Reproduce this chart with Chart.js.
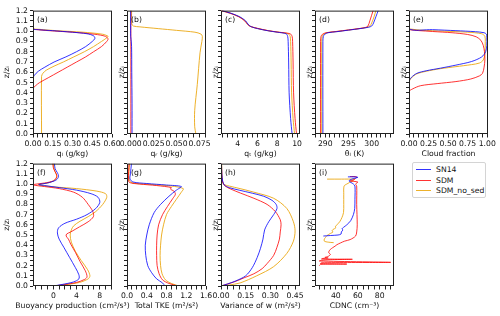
<!DOCTYPE html>
<html>
<head>
<meta charset="utf-8">
<script src="https://cdn.jsdelivr.net/npm/chart.js@4.4.0/dist/chart.umd.min.js"></script>
<style>
  body { margin: 0; background: #fff; width: 500px; height: 316px; position: relative; overflow: hidden; font-family: 'DejaVu Sans', sans-serif; }
  canvas { position: absolute; }
  #legend { position: absolute; left: 412px; top: 162px; width: 72px; height: 34px; border: 1px solid #d4d4d4; border-radius: 2px; font: 7.7px 'DejaVu Sans', sans-serif; color: #111; }
  #legend div { position: absolute; left: 0; height: 10px; line-height: 10px; white-space: nowrap; }
  #legend span { display: inline-block; width: 15px; height: 0; border-top: 1px solid; margin: 0 5px 0 3px; vertical-align: middle; }
</style>
</head>
<body>
<div id="legend"></div>
<script>
const seriesNames = ['SN14', 'SDM', 'SDM_no_sed'];
const seriesColors = ['rgba(0,0,255,0.8)', 'rgba(255,0,0,0.8)', 'rgba(235,168,20,0.9)'];

// [value, z/zi]
const qlSN14 = [[0,0],[0,0.54],[0.01,0.57],[0.04,0.61],[0.09,0.65],[0.16,0.70],[0.25,0.75],[0.33,0.80],[0.40,0.85],[0.45,0.90],[0.47,0.93],[0.46,0.955],[0.41,0.975],[0.30,0.99],[0.15,1.005],[0.04,1.015],[0,1.025],[0,1.2]];
const qlSDM = [[0,0],[0,0.44],[0.02,0.47],[0.05,0.50],[0.12,0.55],[0.19,0.60],[0.26,0.65],[0.33,0.70],[0.40,0.75],[0.46,0.80],[0.52,0.85],[0.56,0.90],[0.57,0.925],[0.55,0.95],[0.47,0.97],[0.30,0.99],[0.12,1.005],[0.03,1.015],[0,1.025],[0,1.2]];
const qlNoSed = [[0.065,0],[0.065,0.56],[0.075,0.59],[0.10,0.62],[0.16,0.66],[0.23,0.70],[0.31,0.75],[0.39,0.80],[0.46,0.85],[0.52,0.90],[0.56,0.935],[0.57,0.95],[0.53,0.97],[0.38,0.99],[0.18,1.005],[0.05,1.018],[0,1.03],[0,1.2]];

const qrSN14 = [[0.0015,0],[0.0015,0.3],[0.0012,0.6],[0.001,0.85],[0.0004,0.92],[0,0.95],[0,1.2]];
const qrSDM = [[0.0002,0],[0.0002,0.6],[0.0002,1.2]];
const qrNoSed = [[0.071,0],[0.0697,0.07],[0.0697,0.23],[0.0725,0.48],[0.0755,0.79],[0.0775,0.9],[0.078,0.95],[0.0765,0.972],[0.070,0.99],[0.05,1.008],[0.03,1.025],[0.01,1.042],[0.003,1.05],[0.0012,1.07],[0.001,1.2]];

const qtSN14 = [[9.5,0],[9.35,0.15],[9.2,0.4],[9.15,0.7],[9.1,0.9],[9.05,0.95],[8.9,0.975],[8.0,0.99],[7.0,1.005],[6.0,1.025],[5.4,1.042],[5.1,1.06],[4.8,1.1],[4.2,1.14],[3.3,1.175],[2.4,1.2]];
const qtSDM = [[9.95,0],[9.8,0.15],[9.65,0.4],[9.6,0.7],[9.55,0.9],[9.5,0.95],[9.3,0.975],[8.2,0.99],[7.1,1.005],[6.0,1.028],[5.3,1.045],[5.0,1.065],[4.7,1.1],[4.1,1.14],[3.2,1.175],[2.3,1.2]];
const qtNoSed = [[9.75,0],[9.6,0.15],[9.45,0.4],[9.4,0.7],[9.35,0.9],[9.3,0.95],[9.1,0.975],[8.1,0.99],[7.05,1.005],[6.0,1.026],[5.35,1.044],[5.05,1.062],[4.75,1.1],[4.15,1.14],[3.25,1.175],[2.35,1.2]];

const thlSN14 = [[289.5,0],[289.5,0.9],[289.6,0.95],[289.9,0.97],[290.6,0.985],[292.5,0.995],[295,1.01],[297.5,1.025],[299.3,1.038],[300.0,1.05],[300.4,1.08],[300.9,1.14],[301.4,1.2]];
const thlSDM = [[289.0,0],[289.0,0.9],[289.1,0.95],[289.4,0.97],[290.2,0.985],[292.3,0.997],[295,1.012],[297.5,1.027],[298.7,1.037],[299.2,1.05],[299.6,1.1],[300.3,1.2]];
const thlNoSed = [[289.25,0],[289.25,0.9],[289.35,0.95],[289.65,0.97],[290.4,0.985],[292.4,0.996],[295,1.011],[297.5,1.026],[299,1.037],[299.6,1.05],[300,1.08],[300.5,1.14],[300.9,1.2]];

const cfSN14 = [[0,0],[0,0.51],[0.03,0.55],[0.1,0.59],[0.22,0.615],[0.4,0.64],[0.6,0.67],[0.8,0.705],[0.93,0.75],[0.98,0.8],[0.995,0.86],[0.995,0.94],[0.99,0.97],[0.96,0.985],[0.85,0.995],[0.6,1.005],[0.3,1.015],[0,1.025],[0,1.2]];
const cfSDM = [[0,0],[0,0.41],[0.05,0.44],[0.15,0.47],[0.36,0.49],[0.6,0.51],[0.79,0.535],[0.9,0.565],[0.94,0.59],[0.96,0.65],[0.97,0.72],[0.965,0.8],[0.95,0.86],[0.92,0.91],[0.86,0.945],[0.75,0.968],[0.55,0.985],[0.3,0.997],[0.12,1.006],[0.02,1.013],[0,1.02],[0,1.2]];
const cfNoSed = [[0,0],[0,0.5],[0.03,0.545],[0.1,0.585],[0.22,0.61],[0.4,0.635],[0.6,0.655],[0.8,0.675],[0.9,0.69],[0.95,0.72],[0.97,0.78],[0.975,0.9],[0.97,0.95],[0.93,0.975],[0.75,0.99],[0.45,1.0],[0.15,1.01],[0.03,1.02],[0,1.025],[0,1.2]];

const bpSN14 = [[0,0],[1.5,0.015],[3.5,0.04],[4.4,0.07],[4.4,0.11],[3.8,0.18],[2.8,0.28],[1.8,0.38],[1.0,0.46],[0.7,0.52],[0.9,0.57],[2.0,0.615],[4.0,0.655],[5.8,0.7],[7.3,0.76],[8.0,0.82],[7.7,0.87],[6.5,0.905],[4.0,0.94],[1.0,0.965],[-1.5,0.985],[-2.5,0.995],[-1.0,1.01],[0.5,1.04],[0.9,1.075],[0.7,1.11],[0.3,1.15],[0.2,1.2]];
const bpSDM = [[0,0],[1.8,0.013],[4.0,0.035],[5.4,0.065],[5.8,0.09],[5.5,0.15],[4.6,0.24],[3.8,0.33],[3.0,0.41],[2.6,0.46],[2.2,0.49],[2.3,0.51],[3.0,0.53],[4.5,0.58],[6.0,0.63],[6.9,0.68],[6.8,0.73],[6.0,0.8],[5.0,0.87],[3.5,0.92],[1.0,0.955],[-1.5,0.975],[-3.4,0.99],[-3.2,0.997],[-1.5,1.01],[0,1.03],[0.5,1.06],[0.6,1.085],[0.3,1.12],[0,1.16],[-0.1,1.2]];
const bpNoSed = [[0,0],[2,0.012],[4.5,0.035],[6.0,0.07],[6.3,0.1],[5.9,0.16],[4.8,0.25],[3.8,0.34],[3.1,0.43],[2.9,0.5],[3.1,0.55],[3.5,0.59],[4.6,0.635],[6.0,0.68],[7.3,0.73],[8.5,0.8],[9.2,0.87],[9.0,0.905],[7.5,0.93],[4.0,0.955],[0.5,0.97],[-2.0,0.985],[-2.6,0.995],[-1.0,1.01],[0.3,1.04],[0.6,1.075],[0.4,1.11],[0.1,1.15],[0,1.2]];

const tkeSN14 = [[0.77,0],[0.72,0.03],[0.6,0.07],[0.5,0.13],[0.42,0.2],[0.38,0.3],[0.37,0.4],[0.4,0.5],[0.45,0.6],[0.55,0.72],[0.68,0.8],[0.85,0.88],[1.0,0.94],[1.1,0.975],[0.8,0.99],[0.4,1.005],[0.12,1.02],[0.06,1.05],[0.07,1.1],[0.09,1.2]];
const tkeSDM = [[1.03,0],[0.85,0.025],[0.72,0.06],[0.65,0.12],[0.61,0.2],[0.6,0.3],[0.6,0.4],[0.61,0.5],[0.64,0.6],[0.72,0.7],[0.82,0.78],[0.93,0.86],[0.98,0.9],[0.95,0.93],[0.88,0.95],[0.9,0.965],[0.6,0.985],[0.25,1.0],[0.05,1.015],[0.03,1.05],[0.04,1.2]];
const tkeNoSed = [[1.05,0],[0.9,0.025],[0.78,0.06],[0.71,0.12],[0.68,0.2],[0.67,0.3],[0.68,0.4],[0.7,0.5],[0.74,0.6],[0.8,0.7],[0.9,0.78],[1.0,0.85],[1.1,0.92],[1.14,0.955],[0.9,0.98],[0.45,0.997],[0.1,1.012],[0.04,1.05],[0.05,1.2]];

const wvarSN14 = [[0,0],[0.04,0.02],[0.09,0.05],[0.15,0.1],[0.19,0.18],[0.22,0.28],[0.24,0.37],[0.255,0.46],[0.265,0.55],[0.29,0.63],[0.32,0.7],[0.34,0.76],[0.335,0.8],[0.31,0.84],[0.26,0.88],[0.19,0.91],[0.11,0.94],[0.05,0.965],[0.02,0.99],[0.01,1.03],[0.005,1.1],[0.003,1.2]];
const wvarSDM = [[0,0],[0.03,0.015],[0.08,0.04],[0.14,0.08],[0.2,0.12],[0.25,0.17],[0.28,0.22],[0.32,0.3],[0.34,0.38],[0.355,0.46],[0.36,0.53],[0.365,0.6],[0.36,0.65],[0.33,0.73],[0.28,0.8],[0.2,0.86],[0.12,0.91],[0.06,0.95],[0.025,0.98],[0.01,1.02],[0.005,1.1],[0.003,1.2]];
const wvarNoSed = [[0,0],[0.05,0.01],[0.116,0.03],[0.217,0.1],[0.32,0.19],[0.4,0.32],[0.44,0.44],[0.45,0.54],[0.44,0.63],[0.4,0.76],[0.32,0.86],[0.2,0.92],[0.116,0.955],[0.05,0.98],[0.015,1.0],[0.006,1.05],[0.004,1.2]];

const cdncSN14 = [[51,1.07],[57,1.07],[60,1.065],[55,1.05],[52,1.03],[56,1.0],[57.4,0.98],[57.4,0.85],[57.2,0.76],[56,0.7],[53.5,0.64],[50,0.6],[47,0.575],[45.5,0.56],[46.5,0.55],[45,0.53],[44.8,0.51],[42,0.5],[35,0.495],[28.6,0.49]];
const cdncSDM = [[53,1.073],[59,1.07],[56,1.04],[53,1.03],[60,1.02],[58,1.0],[59,0.98],[59,0.8],[59.5,0.6],[59,0.53],[58,0.49],[53,0.455],[48,0.44],[44.2,0.422],[41,0.405],[39.2,0.39],[37,0.375],[35,0.359],[34,0.345],[33.5,0.327],[35,0.31],[33,0.29],[30,0.28],[33,0.275],[28,0.27],[27,0.265],[55,0.262],[35,0.258],[27,0.252],[25,0.245],[90,0.232],[27,0.228],[26,0.22],[50,0.215],[26,0.212],[25,0.2]];
const cdncNoSed = [[32,1.048],[45,1.048],[57,1.046],[55,1.03],[50,1.0],[47.5,0.98],[47.2,0.9],[47.2,0.8],[47,0.72],[45.5,0.67],[43.5,0.63],[41,0.6],[39.5,0.58],[40,0.57],[37.5,0.555],[36.5,0.54],[37.5,0.53],[35,0.515],[32,0.495],[30.5,0.475],[29.5,0.46],[29.5,0.44],[33,0.43],[38,0.425]];

// tick labels
const zTicks = [0, 0.1, 0.2, 0.3, 0.4, 0.5, 0.6, 0.7, 0.8, 0.9, 1.0, 1.1, 1.2];
const qlTicks = [0, 0.15, 0.30, 0.45, 0.60];
const qrTicks = [0, 0.025, 0.050, 0.075];
const qtTicks = [4, 6, 8, 10];
const thlTicks = [290, 295, 300];
const cfTicks = [0, 0.25, 0.50, 0.75, 1.00];
const bpTicks = [0, 4, 8];
const tkeTicks = [0, 0.4, 0.8, 1.2, 1.6];
const wvarTicks = [0, 0.15, 0.30, 0.45];
const cdncTicks = [40, 60, 80];

const FONT = { family: 'DejaVu Sans', size: 7.7 };
const TXT = '#111';
const PAD_T = 3, PAD_R = 28, X_H = 25;
const COLS = [33, 127, 221, 315, 409];
const ROWS = [{ y: 7, h: 127 }, { y: 160, h: 126 }];
const W = 79;

const panels = [
  { tag: '(a)', col: 0, row: 0, series: [qlSN14, qlSDM, qlNoSed], min: 0, max: 0.6, major: qlTicks, minor: 0.0375, dig: 2, title: 'qₗ (g/kg)', ylab: true },
  { tag: '(b)', col: 1, row: 0, series: [qrSN14, qrSDM, qrNoSed], min: -0.004, max: 0.082, major: qrTicks, minor: 0.00625, dig: 3, title: 'qᵣ (g/kg)' },
  { tag: '(c)', col: 2, row: 0, series: [qtSN14, qtSDM, qtNoSed], min: 2.3, max: 10.3, major: qtTicks, minor: 0.5, dig: 0, title: 'qₜ (g/kg)' },
  { tag: '(d)', col: 3, row: 0, series: [thlSN14, thlSDM, thlNoSed], min: 287.8, max: 304.8, major: thlTicks, minor: 1, dig: 0, title: 'θₗ (K)' },
  { tag: '(e)', col: 4, row: 0, series: [cfSN14, cfSDM, cfNoSed], min: 0, max: 1.01, major: cfTicks, minor: 0.0625, dig: 2, title: 'Cloud fraction' },
  { tag: '(f)', col: 0, row: 1, series: [bpSN14, bpSDM, bpNoSed], min: -3.5, max: 10.1, major: bpTicks, minor: 1, dig: 0, title: 'Buoyancy production (cm²/s³)', ylab: true },
  { tag: '(g)', col: 1, row: 1, series: [tkeSN14, tkeSDM, tkeNoSed], min: 0, max: 1.6, major: tkeTicks, minor: 0.1, dig: 1, title: 'Total TKE (m²/s²)' },
  { tag: '(h)', col: 2, row: 1, series: [wvarSN14, wvarSDM, wvarNoSed], min: 0, max: 0.48, major: wvarTicks, minor: 0.0375, dig: 2, title: 'Variance of w (m²/s²)' },
  { tag: '(i)', col: 3, row: 1, series: [cdncSN14, cdncSDM, cdncNoSed], min: 21, max: 93, major: cdncTicks, minor: 5, dig: 0, title: 'CDNC (cm⁻³)' }
];

function makeTicks(min, max, step) {
  const out = [];
  for (let k = Math.ceil(min / step - 1e-9); k * step <= max + 1e-9; k++) {
    out.push({ value: Math.round(k * step * 1e6) / 1e6 });
  }
  return out;
}

function labelFor(v, majors, dig, step) {
  return majors.some(m => Math.abs(m - v) < step * 0.01) ? v.toFixed(dig) : '';
}

// spines on all four sides, panel tag, x-axis title (drawn unsqueezed)
const framePlugin = {
  id: 'frame',
  afterDraw(chart, args, opts) {
    const { ctx, chartArea: a } = chart;
    ctx.save();
    ctx.strokeStyle = '#222';
    ctx.lineWidth = 1;
    ctx.strokeRect(a.left + 0.5, a.top + 0.5, a.right - a.left - 1, a.bottom - a.top - 1);
    ctx.fillStyle = TXT;
    ctx.font = FONT.size + 'px "DejaVu Sans"';
    ctx.textBaseline = 'middle';
    ctx.textAlign = 'left';
    ctx.fillText(opts.tag, a.left + 4, a.top + 9);
    ctx.textAlign = 'center';
    ctx.fillText(opts.title, (a.left + a.right) / 2, a.bottom + 20);
    ctx.restore();
  }
};

function makePanel(p) {
  const yW = p.ylab ? 33 : 10;
  const x0 = COLS[p.col], r = ROWS[p.row];
  const padL = p.ylab ? 0 : 30;
  const w = padL + yW + W + PAD_R, h = PAD_T + r.h + X_H;
  const canvas = document.createElement('canvas');
  canvas.width = w; canvas.height = h;
  canvas.style.left = (x0 - yW - padL) + 'px';
  canvas.style.top = (r.y - PAD_T) + 'px';
  canvas.style.width = w + 'px';
  canvas.style.height = h + 'px';
  document.body.appendChild(canvas);

  new Chart(canvas, {
    type: 'scatter',
    data: {
      datasets: p.series.map((s, i) => ({
        label: seriesNames[i],
        data: s.map(([v, z]) => ({ x: v, y: z })),
        showLine: true,
        borderColor: seriesColors[i],
        borderWidth: 1,
        pointRadius: 0,
        tension: 0.3
      }))
    },
    options: {
      responsive: false,
      animation: false,
      devicePixelRatio: 1,
      layout: { padding: { top: PAD_T, right: PAD_R, left: padL, bottom: 0 } },
      plugins: { legend: { display: false }, tooltip: { enabled: false }, frame: { tag: p.tag, title: p.title } },
      scales: {
        x: {
          type: 'linear', position: 'bottom', min: p.min, max: p.max, bounds: 'data',
          afterFit: s => { s.height = X_H; },
          afterBuildTicks: s => { s.ticks = makeTicks(p.min, p.max, p.minor); },
          ticks: { autoSkip: false, maxRotation: 0, padding: 2, font: FONT, color: TXT,
            callback: v => labelFor(v, p.major, p.dig, p.minor) },
          grid: { drawOnChartArea: false, tickLength: 3.5, tickColor: '#222' },
          border: { display: false }
        },
        y: {
          type: 'linear', position: 'left', min: 0, max: 1.2, bounds: 'data',
          afterFit: s => { s.width = yW; },
          afterBuildTicks: s => { s.ticks = makeTicks(0, 1.2, 0.05); },
          ticks: { autoSkip: false, padding: 2, font: FONT, color: TXT,
            callback: v => p.ylab ? labelFor(v, zTicks, 1, 0.05) : '' },
          grid: { drawOnChartArea: false, tickLength: 3, tickColor: '#222' },
          border: { display: false },
          title: { display: true, text: 'z/zᵢ', font: FONT, color: TXT, padding: { top: p.ylab ? 2 : 0 } }
        }
      }
    },
    plugins: [framePlugin]
  });
}

panels.forEach(makePanel);

const legend = document.getElementById('legend');
seriesNames.forEach((name, i) => {
  const row = document.createElement('div');
  row.style.top = (2 + i * 10.5) + 'px';
  row.innerHTML = '<span style="border-color:' + seriesColors[i] + '"></span>' + name;
  legend.appendChild(row);
});
</script>
</body>
</html>
